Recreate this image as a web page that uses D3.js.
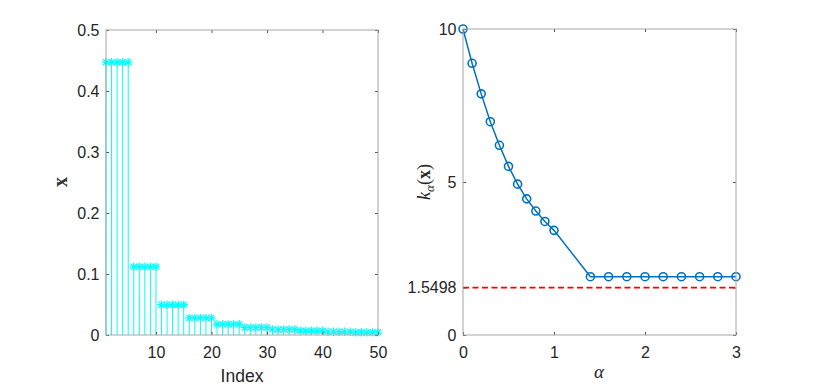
<!DOCTYPE html>
<html>
<head>
<meta charset="utf-8">
<script src="https://cdn.jsdelivr.net/npm/d3@7"></script>
<style>
  body { margin: 0; background: #fff; }
  svg { display: block; }
</style>
</head>
<body>
<svg width="814" height="388"></svg>
<script>
  // left panel: stem values, index 1..50
  const stemIndex = d3.range(1, 51);
  const stemValues = [
    0.4472, 0.4472, 0.4472, 0.4472, 0.4472,
    0.1118, 0.1118, 0.1118, 0.1118, 0.1118,
    0.0497, 0.0497, 0.0497, 0.0497, 0.0497,
    0.0280, 0.0280, 0.0280, 0.0280, 0.0280,
    0.0179, 0.0179, 0.0179, 0.0179, 0.0179,
    0.0124, 0.0124, 0.0124, 0.0124, 0.0124,
    0.0091, 0.0091, 0.0091, 0.0091, 0.0091,
    0.0070, 0.0070, 0.0070, 0.0070, 0.0070,
    0.0055, 0.0055, 0.0055, 0.0055, 0.0055,
    0.0045, 0.0045, 0.0045, 0.0045, 0.0045
  ];
  const leftXTicks = [10, 20, 30, 40, 50];
  const leftYTicks = [0, 0.1, 0.2, 0.3, 0.4, 0.5];

  // right panel: k_alpha(x) vs alpha
  const alphas = [0, 0.1, 0.2, 0.3, 0.4, 0.5, 0.6, 0.7, 0.8, 0.9, 1.0,
                  1.4, 1.6, 1.8, 2.0, 2.2, 2.4, 2.6, 2.8, 3.0];
  const kValues = [10, 8.88, 7.88, 6.97, 6.20, 5.51, 4.93, 4.45, 4.05, 3.71, 3.42,
                   1.905, 1.905, 1.905, 1.905, 1.905, 1.905, 1.905, 1.905, 1.905];
  const bound = 1.5498;
  const rightXTicks = [0, 1, 2, 3];
  const rightYTicks = [0, 1.5498, 5, 10];

  const svg = d3.select('svg');
  const boxColor = '#a6a6a6';
  const sans = '"Liberation Sans", Arial, sans-serif';

  const drawAxes = (x, y, xTicks, yTicks, yFmt) => {
    const [x0, x1] = x.range();
    const [y0, y1] = y.range();
    const g = svg.append('g');
    g.append('g').attr('transform', `translate(0,${y0})`)
      .call(d3.axisBottom(x).tickValues(xTicks).tickSize(-3).tickPadding(12).tickFormat(d3.format('d')));
    g.append('g').attr('transform', `translate(0,${y1})`)
      .call(d3.axisTop(x).tickValues(xTicks).tickSize(-3).tickFormat(''));
    g.append('g').attr('transform', `translate(${x0},0)`)
      .call(d3.axisLeft(y).tickValues(yTicks).tickSize(-3).tickPadding(6.5).tickFormat(yFmt));
    g.append('g').attr('transform', `translate(${x1},0)`)
      .call(d3.axisRight(y).tickValues(yTicks).tickSize(-3).tickFormat(''));
    g.selectAll('.domain').remove();
    g.selectAll('.tick line').attr('stroke', '#555');
    g.selectAll('.tick text')
      .attr('font-family', sans).attr('font-size', 16).attr('fill', '#262626');
    g.append('rect')
      .attr('x', x0).attr('y', y1)
      .attr('width', x1 - x0).attr('height', y0 - y1)
      .attr('fill', 'none').attr('stroke', boxColor).attr('stroke-width', 1);
    return g;
  };

  // ---- left panel ----
  const xL = d3.scaleLinear().domain([1, 50]).range([106, 378]);
  const yL = d3.scaleLinear().domain([0, 0.5]).range([335, 30]);

  const stems = svg.append('g');
  stems.selectAll('line').data(stemIndex).enter().append('line')
    .attr('x1', d => xL(d)).attr('x2', d => xL(d))
    .attr('y1', yL(0)).attr('y2', (d, i) => yL(stemValues[i]))
    .attr('stroke', '#00ffff').attr('stroke-width', 1);

  const r = 4.2, rd = r * 0.72;
  const asterisk = `M${-r},0L${r},0M0,${-r}L0,${r}M${-rd},${-rd}L${rd},${rd}M${-rd},${rd}L${rd},${-rd}`;
  stems.selectAll('path').data(stemIndex).enter().append('path')
    .attr('transform', (d, i) => `translate(${xL(d)},${yL(stemValues[i])})`)
    .attr('d', asterisk)
    .attr('fill', 'none').attr('stroke', '#00ffff').attr('stroke-width', 1.2);

  drawAxes(xL, yL, leftXTicks, leftYTicks, d3.format('.1~f'));

  svg.append('text')
    .attr('x', 242).attr('y', 382)
    .attr('text-anchor', 'middle')
    .attr('font-family', sans)
    .attr('font-size', 17.5).attr('fill', '#262626')
    .text('Index');

  svg.append('text')
    .attr('transform', 'translate(67,182) rotate(-90)')
    .attr('text-anchor', 'middle')
    .attr('font-family', '"Liberation Serif", serif')
    .attr('font-size', 20).attr('font-weight', 'bold').attr('fill', '#333')
    .text('x');

  // ---- right panel ----
  const xR = d3.scaleLinear().domain([0, 3]).range([463, 736]);
  const yR = d3.scaleLinear().domain([0, 10]).range([335, 29]);

  svg.append('line')
    .attr('x1', xR(0)).attr('x2', xR(3))
    .attr('y1', yR(bound)).attr('y2', yR(bound))
    .attr('stroke', '#ff0000').attr('stroke-width', 1.8)
    .attr('stroke-dasharray', '6,3.5');

  const pts = alphas.map((a, i) => [a, kValues[i]]);
  svg.append('path')
    .datum(pts)
    .attr('d', d3.line().x(d => xR(d[0])).y(d => yR(d[1])))
    .attr('fill', 'none').attr('stroke', '#0072bd').attr('stroke-width', 1.5);
  svg.append('g').selectAll('circle').data(pts).enter().append('circle')
    .attr('cx', d => xR(d[0])).attr('cy', d => yR(d[1])).attr('r', 4)
    .attr('fill', 'none').attr('stroke', '#0072bd').attr('stroke-width', 1.6);

  drawAxes(xR, yR, rightXTicks, rightYTicks, d => d === bound ? '1.5498' : d3.format('d')(d));

  svg.append('text')
    .attr('x', 599).attr('y', 378)
    .attr('text-anchor', 'middle')
    .attr('font-family', '"Liberation Serif", serif')
    .attr('font-size', 19).attr('font-style', 'italic').attr('fill', '#262626')
    .text('α');

  const kl = svg.append('text')
    .attr('transform', 'translate(430,182) rotate(-90)')
    .attr('text-anchor', 'middle')
    .attr('font-family', '"Liberation Serif", serif')
    .attr('font-size', 18).attr('fill', '#262626');
  kl.append('tspan').attr('font-style', 'italic').text('k');
  kl.append('tspan').attr('font-style', 'italic').attr('font-size', 13).attr('dy', 4).text('α');
  kl.append('tspan').attr('dy', -4).text('(');
  kl.append('tspan').attr('font-weight', 'bold').text('x');
  kl.append('tspan').text(')');
</script>
</body>
</html>
